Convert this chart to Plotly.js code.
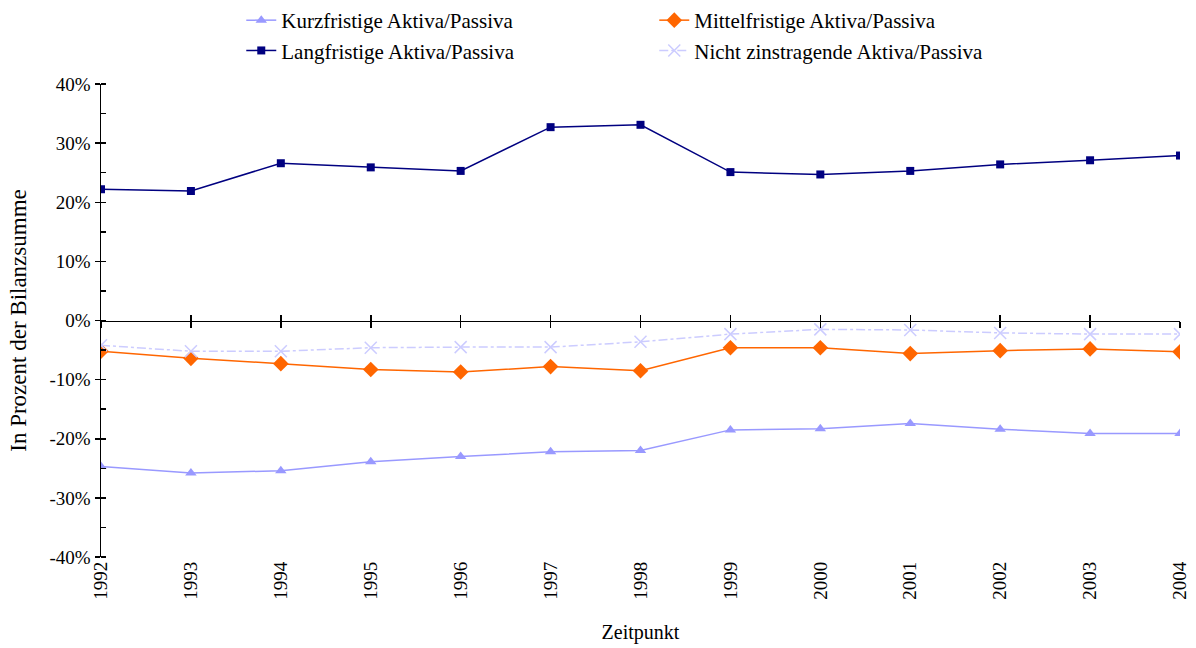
<!DOCTYPE html>
<html>
<head>
<meta charset="utf-8">
<script src="https://cdn.plot.ly/plotly-3.0.1.min.js"></script>
<style>html,body{margin:0;padding:0;background:#fff;}#chart{width:1196px;height:648px;}</style>
</head>
<body>
<div id="chart"></div>
<script>
const years = [1992,1993,1994,1995,1996,1997,1998,1999,2000,2001,2002,2003,2004];
const kurzfristig = [-24.7,-25.8,-25.4,-23.9,-23.0,-22.2,-22.0,-18.5,-18.3,-17.4,-18.4,-19.1,-19.1];
const mittelfristig = [-5.2,-6.4,-7.3,-8.3,-8.7,-7.8,-8.5,-4.6,-4.6,-5.6,-5.1,-4.8,-5.3];
const langfristig = [22.2,21.9,26.6,25.9,25.3,32.7,33.1,25.1,24.7,25.3,26.4,27.1,27.9];
const nichtZins = [-4.2,-5.2,-5.2,-4.6,-4.5,-4.5,-3.6,-2.3,-1.5,-1.6,-2.1,-2.3,-2.3];
const seriesNames = ['Kurzfristige Aktiva/Passiva','Mittelfristige Aktiva/Passiva','Langfristige Aktiva/Passiva','Nicht zinstragende Aktiva/Passiva'];
const yTicks = [-40,-30,-20,-10,0,10,20,30,40];
const yTickText = ['-40%','-30%','-20%','-10%','0%','10%','20%','30%','40%'];

const font = {family: 'Liberation Serif, Times New Roman, serif', color: '#000'};
const f = s => Object.assign({size: s}, font);

const traces = [
  {x: years, y: kurzfristig, name: seriesNames[0], mode: 'lines+markers',
   line: {color: '#9999FF', width: 1.5}, marker: {symbol: 'triangle-up', size: 10, color: '#9999FF'}},
  {x: years, y: mittelfristig, name: seriesNames[1], mode: 'lines+markers',
   line: {color: '#FF6600', width: 1.5}, marker: {symbol: 'diamond', size: 12, color: '#FF6600'}},
  {x: years, y: langfristig, name: seriesNames[2], mode: 'lines+markers',
   line: {color: '#000080', width: 1.5}, marker: {symbol: 'square', size: 8, color: '#000080'}},
  {x: years, y: nichtZins, name: seriesNames[3], mode: 'lines+markers',
   line: {color: '#CCCCFF', width: 1.5, dash: 'dashdot'}, marker: {symbol: 'x-thin', size: 12, line: {color: '#CCCCFF', width: 1.5}, color: '#CCCCFF'}},
  {x: [], y: [], xaxis: 'x2', yaxis: 'y', showlegend: false, hoverinfo: 'skip', mode: 'lines'},
  {x: [], y: [], xaxis: 'x3', yaxis: 'y', showlegend: false, hoverinfo: 'skip', mode: 'lines'}
];

const layout = {
  width: 1196, height: 648,
  margin: {l: 101, r: 16, t: 84, b: 91},
  paper_bgcolor: '#fff', plot_bgcolor: '#fff',
  font: f(19),
  showlegend: true,
  legend: {orientation: 'h', x: 0.13, xanchor: 'left', yref: 'container', y: 1.0, yanchor: 'top',
           entrywidth: 368, entrywidthmode: 'pixels', tracegroupgap: 0,
           font: f(21), traceorder: 'normal'},
  xaxis: {range: [1992, 2004], tickvals: years, ticktext: years.map(String), tickangle: -90,
          showgrid: false, zeroline: false, showline: false, ticks: '', tickfont: f(19),
          title: {text: 'Zeitpunkt', font: f(20), standoff: 26}},
  xaxis2: {overlaying: 'x', anchor: 'free', position: 0.5, range: [1992, 2004], tickvals: years,
           showticklabels: false, showgrid: false, zeroline: false, showline: true, linecolor: '#000', linewidth: 1.5,
           ticks: 'outside', ticklen: 6, tickwidth: 1.5, tickcolor: '#000'},
  xaxis3: {overlaying: 'x', anchor: 'free', position: 0.5, range: [1992, 2004], tickvals: years,
           showticklabels: false, showgrid: false, zeroline: false, showline: false,
           ticks: 'inside', ticklen: 6, tickwidth: 1.5, tickcolor: '#000'},
  yaxis: {range: [-40, 40], tickvals: yTicks, ticktext: yTickText, showgrid: false, zeroline: false,
          showline: true, linecolor: '#000', linewidth: 1.5, ticks: 'outside', ticklen: 5, tickwidth: 1.5, tickcolor: '#000',
          tickfont: f(19),
          minor: {dtick: 5, ticks: 'inside', ticklen: 5, tickwidth: 1.5, tickcolor: '#000', showgrid: false},
          title: {text: 'In Prozent der Bilanzsumme', font: f(23), standoff: 16}}
};

Plotly.newPlot('chart', traces, layout, {displayModeBar: false, staticPlot: true});
</script>
</body>
</html>
